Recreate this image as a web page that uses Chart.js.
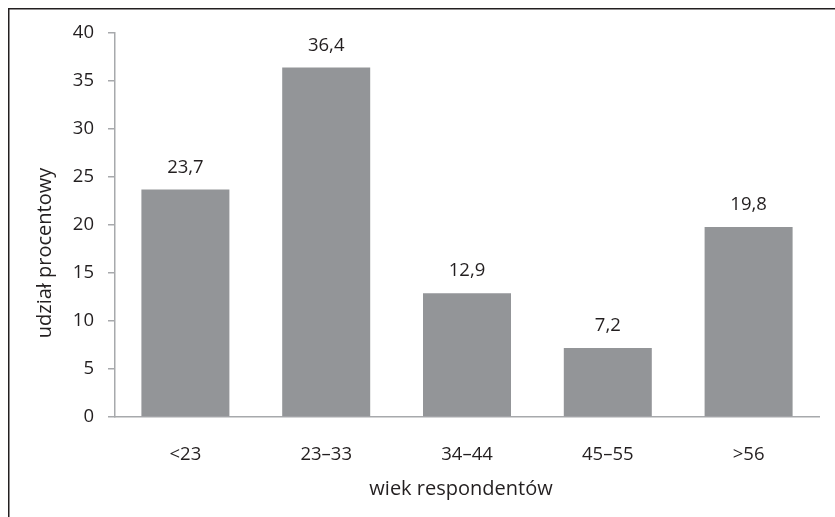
<!DOCTYPE html>
<html>
<head>
<meta charset="utf-8">
<script src="https://cdn.jsdelivr.net/npm/chart.js@4/dist/chart.umd.min.js"></script>
<style>
  html, body { margin: 0; padding: 0; background: #ffffff; }
  #wrap { width: 835px; height: 517px; position: relative; }
</style>
</head>
<body>
<div id="wrap"><canvas id="c" width="835" height="517"></canvas></div>
<script>
// Age groups of respondents and their percentage share
const categories = ['<23', '23–33', '34–44', '45–55', '>56'];
const shares = [23.7, 36.4, 12.9, 7.2, 19.8];
const yTicks = [0, 5, 10, 15, 20, 25, 30, 35, 40];
const xTitle = 'wiek respondentów';
const yTitle = 'udział procentowy';

const TEXT = '#231f20';
const AXIS = '#a7a9ac';
const BAR = '#939598';
const FONT = '"Open Sans", Lato, sans-serif';
const FS = 18.5;
const TITLE_FS = 20;

// Thin frame around the figure (top and left edges)
const framePlugin = {
  id: 'frame',
  beforeDraw(chart) {
    const ctx = chart.ctx;
    ctx.save();
    ctx.fillStyle = '#ffffff';
    ctx.fillRect(0, 0, chart.width, chart.height);
    ctx.strokeStyle = TEXT;
    ctx.lineWidth = 1.5;
    ctx.beginPath();
    ctx.moveTo(8.75, chart.height);
    ctx.lineTo(8.75, 8.75);
    ctx.lineTo(chart.width, 8.75);
    ctx.stroke();
    ctx.restore();
  }
};

// Axis titles, placed in the space reserved around the plot area
const axisTitles = {
  id: 'axisTitles',
  afterDraw(chart) {
    const ctx = chart.ctx;
    const area = chart.chartArea;
    ctx.save();
    ctx.fillStyle = TEXT;
    ctx.font = TITLE_FS + 'px ' + FONT;
    ctx.textAlign = 'center';
    ctx.textBaseline = 'alphabetic';
    ctx.fillText(xTitle, (area.left + area.right) / 2 - 6, 495);
    ctx.translate(45, (area.top + area.bottom) / 2 + 28);
    ctx.rotate(-Math.PI / 2);
    ctx.textBaseline = 'middle';
    ctx.fillText(yTitle, 0, 0);
    ctx.restore();
  }
};

// Value labels above each bar, with decimal comma
const valueLabels = {
  id: 'valueLabels',
  afterDatasetsDraw(chart) {
    const ctx = chart.ctx;
    const meta = chart.getDatasetMeta(0);
    ctx.save();
    ctx.fillStyle = TEXT;
    ctx.font = FS + 'px ' + FONT;
    ctx.textAlign = 'center';
    ctx.textBaseline = 'middle';
    meta.data.forEach((bar, i) => {
      const txt = shares[i].toFixed(1).replace('.', ',');
      ctx.fillText(txt, bar.x, bar.y - 22);
    });
    ctx.restore();
  }
};

new Chart(document.getElementById('c'), {
  type: 'bar',
  data: {
    labels: categories,
    datasets: [{
      data: shares,
      backgroundColor: BAR,
      borderWidth: 0,
      categoryPercentage: 1.0,
      barPercentage: 0.625
    }]
  },
  options: {
    responsive: false,
    animation: false,
    events: [],
    layout: { padding: { top: 33, right: 16, bottom: 0, left: 0 } },
    plugins: {
      legend: { display: false },
      tooltip: { enabled: false },
      title: { display: false }
    },
    scales: {
      x: {
        grid: { display: false },
        border: { display: true, color: AXIS, width: 1.5 },
        ticks: { color: TEXT, font: { family: FONT, size: FS }, padding: 19 },
        afterFit(scale) { scale.height = 100; }
      },
      y: {
        min: 0,
        max: 40,
        afterBuildTicks(scale) { scale.ticks = yTicks.map(v => ({ value: v })); },
        grid: {
          drawOnChartArea: false,
          drawTicks: true,
          tickLength: 7,
          color: AXIS,
          lineWidth: 1.5
        },
        border: { display: true, color: AXIS, width: 1.5 },
        ticks: { color: TEXT, font: { family: FONT, size: FS }, padding: 14 },
        afterFit(scale) { scale.width = 115; }
      }
    }
  },
  plugins: [framePlugin, valueLabels, axisTitles]
});
</script>
</body>
</html>
